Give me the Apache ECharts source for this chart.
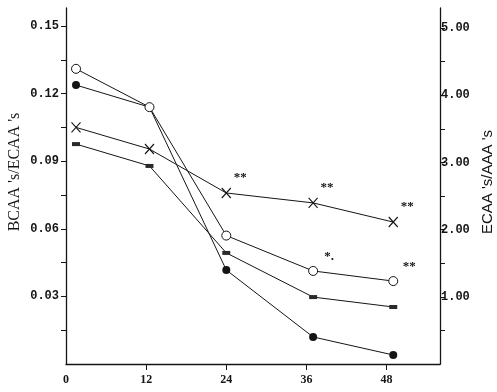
<!DOCTYPE html>
<html>
<head>
<meta charset="utf-8">
<script src="https://cdn.jsdelivr.net/npm/echarts@6/dist/echarts.min.js"></script>
<style>
  html, body { margin: 0; padding: 0; background: #fff; }
  #chart { width: 497px; height: 392px; }
</style>
</head>
<body>
<div id="chart"></div>
<script>
// time points (x) and the four curves
var hours = [1.5, 12.5, 24, 37, 49];
var openCircle = [0.131, 0.114, 0.057, 0.0413, 0.0368];
var filledCircle = [0.1238, 0.114, 0.0417, 0.012, 0.004];
var dashMark = [0.0976, 0.0879, 0.0493, 0.0297, 0.0253];
var crossMark = [0.105, 0.0954, 0.0759, 0.0715, 0.063];
// significance marks printed beside points
var crossNotes = ['', '', '**', '**', '**'];
var openNotes = ['', '', '', '*.', '**'];

var xTicks = [0, 12, 24, 36, 48];
var leftLabels = [0.03, 0.06, 0.09, 0.12, 0.15];
var leftTicks = [0.015, 0.03, 0.045, 0.06, 0.075, 0.09, 0.105, 0.12, 0.135, 0.15];
var rightLabels = [1, 2, 3, 4, 5];
var rightTicks = [0.5, 1, 1.5, 2, 2.5, 3, 3.5, 4, 4.5, 5];

var ink = '#151515';
var monoFont = 'Liberation Mono';
var serifFont = 'Liberation Serif';

function pairs(ys, notes, dx, dy) {
    return ys.map(function (v, i) {
        var item = {value: [hours[i], v]};
        if (notes && notes[i]) {
            item.label = {
                show: true,
                formatter: notes[i],
                position: 'top',
                offset: [dx, dy],
                color: ink,
                fontSize: 13,
                fontWeight: 'bold',
                fontFamily: serifFont
            };
        }
        return item;
    });
}

var chart = echarts.init(document.getElementById('chart'));
var option = {
    animation: false,
    backgroundColor: '#fff',
    grid: {left: 66, right: 57, top: 8, bottom: 28},
    xAxis: {
        type: 'value',
        min: 0,
        max: 56,
        axisLine: {lineStyle: {color: ink, width: 1.3}},
        axisTick: {customValues: [12, 24, 36, 48], length: 6, lineStyle: {color: ink}},
        axisLabel: {
            customValues: xTicks,
            color: ink,
            fontFamily: serifFont,
            fontWeight: 'bold',
            fontSize: 12,
            margin: 10
        },
        splitLine: {show: false}
    },
    yAxis: [
        {
            type: 'value',
            min: 0,
            max: 0.158,
            axisLine: {show: true, lineStyle: {color: ink, width: 1.3}},
            axisTick: {customValues: leftTicks, length: 5, lineStyle: {color: ink}},
            axisLabel: {
                customValues: leftLabels,
                formatter: function (v) { return v.toFixed(2); },
                color: ink,
                fontFamily: monoFont,
                fontWeight: 'bold',
                fontSize: 12,
                margin: 7
            },
            splitLine: {show: false}
        },
        {
            type: 'value',
            position: 'right',
            min: 0,
            max: 5.3,
            axisLine: {show: true, lineStyle: {color: ink, width: 1.3}},
            axisTick: {customValues: rightTicks, length: 5, lineStyle: {color: ink}},
            axisLabel: {
                customValues: rightLabels,
                formatter: function (v) { return v.toFixed(2); },
                color: ink,
                fontFamily: monoFont,
                fontWeight: 'bold',
                fontSize: 12,
                margin: 1
            },
            splitLine: {show: false}
        }
    ],
    graphic: [
        {
            type: 'text', x: 15, y: 172, rotation: Math.PI / 2,
            style: {text: "BCAA 's/ECAA 's", textAlign: 'center', textVerticalAlign: 'middle',
                    font: '16px "Liberation Serif"', fill: ink}
        },
        {
            type: 'text', x: 488, y: 182, rotation: Math.PI / 2,
            style: {text: "ECAA 's/AAA 's", textAlign: 'center', textVerticalAlign: 'middle',
                    font: '15px "Liberation Sans"', fill: ink}
        }
    ],
    series: [
        {
            type: 'line',
            data: pairs(filledCircle),
            symbol: 'circle',
            symbolSize: 8,
            itemStyle: {color: ink},
            lineStyle: {color: ink, width: 1},
            z: 1
        },
        {
            type: 'line',
            data: pairs(dashMark),
            symbol: 'rect',
            symbolSize: [8, 4],
            itemStyle: {color: '#2a2a2a'},
            lineStyle: {color: ink, width: 1},
            z: 2
        },
        {
            type: 'line',
            data: pairs(crossMark, crossNotes, 14, 2),
            symbol: 'path://M0,0L10,12M10,0L0,12',
            symbolSize: [9, 10],
            itemStyle: {color: ink, borderColor: ink, borderWidth: 1.2},
            lineStyle: {color: ink, width: 1},
            z: 2
        },
        {
            type: 'line',
            data: pairs(openCircle, openNotes, 16, 2),
            symbol: 'circle',
            symbolSize: 9,
            itemStyle: {color: '#fff', borderColor: ink, borderWidth: 1},
            lineStyle: {color: ink, width: 1},
            z: 5
        }
    ]
};
chart.setOption(option);
</script>
</body>
</html>
